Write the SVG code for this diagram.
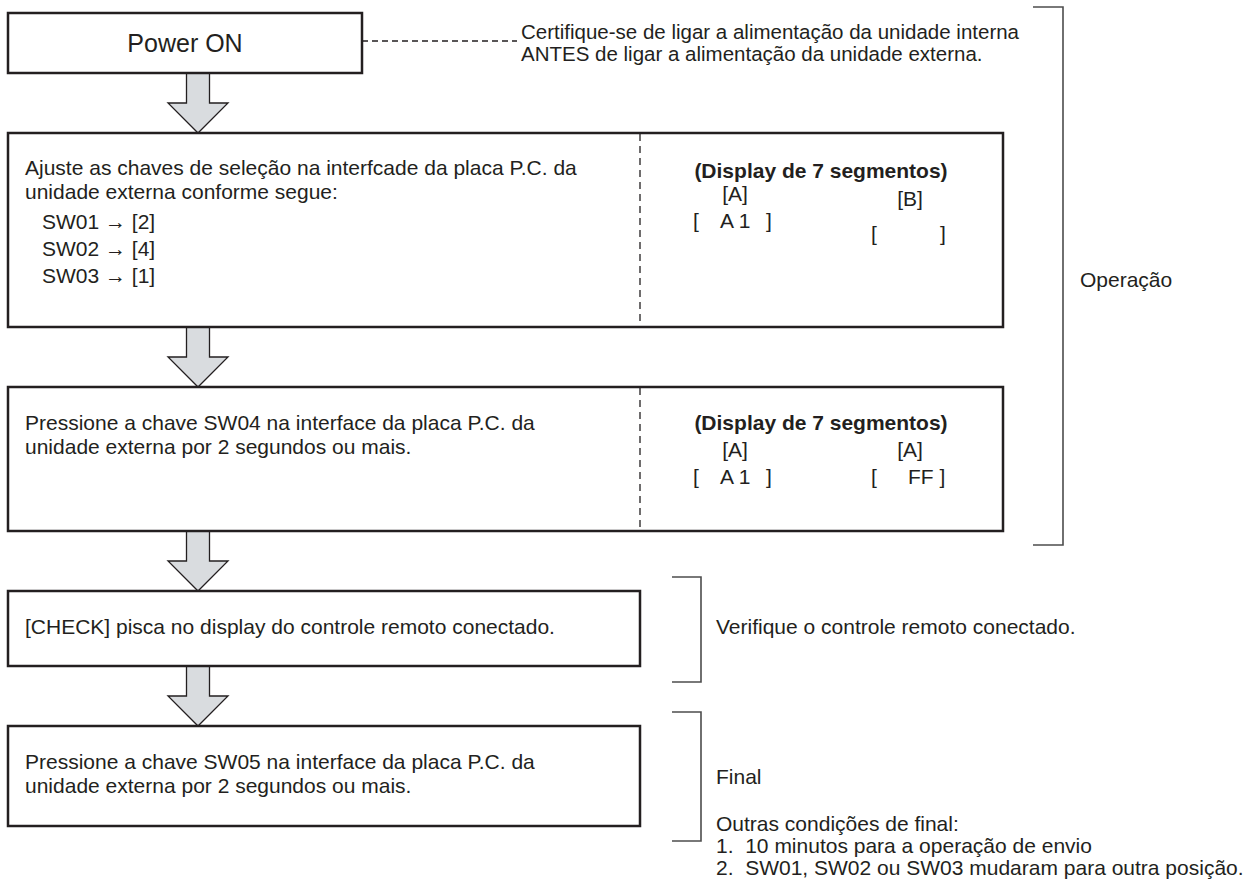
<svg xmlns="http://www.w3.org/2000/svg" width="1259" height="886" viewBox="0 0 1259 886">
  <style>
    text { font-family: "Liberation Sans", Arial, sans-serif; font-size: 21px; fill: #231f20; }
    .title { font-size: 25px; }
    .note { font-size: 20.5px; }
    .bold { font-weight: bold; }
    .mid { text-anchor: middle; }
    .box { fill: #ffffff; stroke: #231f20; stroke-width: 2.5; }
    .divider { stroke: #231f20; stroke-width: 1.3; stroke-dasharray: 7 5; fill: none; }
    .leader { stroke: #231f20; stroke-width: 1.3; stroke-dasharray: 6 4; fill: none; }
    .bracket { stroke: #4d4d4d; stroke-width: 1.6; fill: none; }
    .flow { fill: #d9dcdf; stroke: #231f20; stroke-width: 1.3; stroke-linejoin: miter; }
  </style>
  <defs>
    <!-- block arrow pointing down, origin at top centre, 60 long -->
    <path id="downArrow" d="M-11.5,0 H11.5 V30 H30 L0,60 L-30,30 H-11.5 Z"/>
  </defs>

  <!-- flow arrows between the steps -->
  <g id="connectors">
    <use href="#downArrow" class="flow" x="198" y="73"/>
    <use href="#downArrow" class="flow" x="198" y="327"/>
    <use href="#downArrow" class="flow" x="198" y="531"/>
    <use href="#downArrow" class="flow" x="198" y="666"/>
    <line class="leader" x1="362" y1="41" x2="517" y2="41"/>
  </g>

  <g id="power-on">
    <rect class="box" x="8" y="13" width="354" height="60"/>
    <text class="title mid" x="185" y="52">Power ON</text>
  </g>

  <g id="power-note">
    <text class="note" x="521" y="39">Certifique-se de ligar a alimentação da unidade interna</text>
    <text class="note" x="521" y="61">ANTES de ligar a alimentação da unidade externa.</text>
  </g>

  <g id="step-switches">
    <rect class="box" x="8" y="133" width="995" height="194"/>
    <line class="divider" x1="640" y1="134" x2="640" y2="326"/>
    <text x="25" y="175">Ajuste as chaves de seleção na interfcade da placa P.C. da</text>
    <text x="25" y="199">unidade externa conforme segue:</text>
    <text x="42" y="229">SW01 → [2]</text>
    <text x="42" y="256">SW02 → [4]</text>
    <text x="42" y="283">SW03 → [1]</text>
    <text class="bold mid" x="821" y="178">(Display de 7 segmentos)</text>
    <text class="mid" x="735" y="201">[A]</text>
    <text x="693" y="228">[</text>
    <text x="720" y="228">A 1</text>
    <text x="766" y="228">]</text>
    <text class="mid" x="910" y="206">[B]</text>
    <text x="871" y="241">[</text>
    <text x="940" y="241">]</text>
  </g>

  <g id="step-sw04">
    <rect class="box" x="8" y="387" width="995" height="144"/>
    <line class="divider" x1="640" y1="388" x2="640" y2="530"/>
    <text x="25" y="430">Pressione a chave SW04 na interface da placa P.C. da</text>
    <text x="25" y="454">unidade externa por 2 segundos ou mais.</text>
    <text class="bold mid" x="821" y="430">(Display de 7 segmentos)</text>
    <text class="mid" x="735" y="457">[A]</text>
    <text class="mid" x="910" y="457">[A]</text>
    <text x="693" y="484">[</text>
    <text x="720" y="484">A 1</text>
    <text x="766" y="484">]</text>
    <text x="871" y="484">[</text>
    <text x="908" y="484">FF ]</text>
  </g>

  <g id="step-check">
    <rect class="box" x="8" y="591" width="632" height="75"/>
    <text x="25" y="634">[CHECK] pisca no display do controle remoto conectado.</text>
  </g>

  <g id="step-sw05">
    <rect class="box" x="8" y="726" width="632" height="100"/>
    <text x="25" y="769">Pressione a chave SW05 na interface da placa P.C. da</text>
    <text x="25" y="793">unidade externa por 2 segundos ou mais.</text>
  </g>

  <!-- side brackets with their phase notes -->
  <g id="phase-operacao">
    <path class="bracket" d="M1033,7 H1063 V545 H1033"/>
    <text x="1080" y="287">Operação</text>
  </g>

  <g id="phase-verify">
    <path class="bracket" d="M672,577 H701 V682 H672"/>
    <text x="716" y="634">Verifique o controle remoto conectado.</text>
  </g>

  <g id="phase-final">
    <path class="bracket" d="M672,712 H701 V841 H672"/>
    <text x="716" y="784">Final</text>
    <text x="716" y="831">Outras condições de final:</text>
    <text x="716" y="853" xml:space="preserve">1.  10 minutos para a operação de envio</text>
    <text x="716" y="875" xml:space="preserve">2.  SW01, SW02 ou SW03 mudaram para outra posição.</text>
  </g>
</svg>
